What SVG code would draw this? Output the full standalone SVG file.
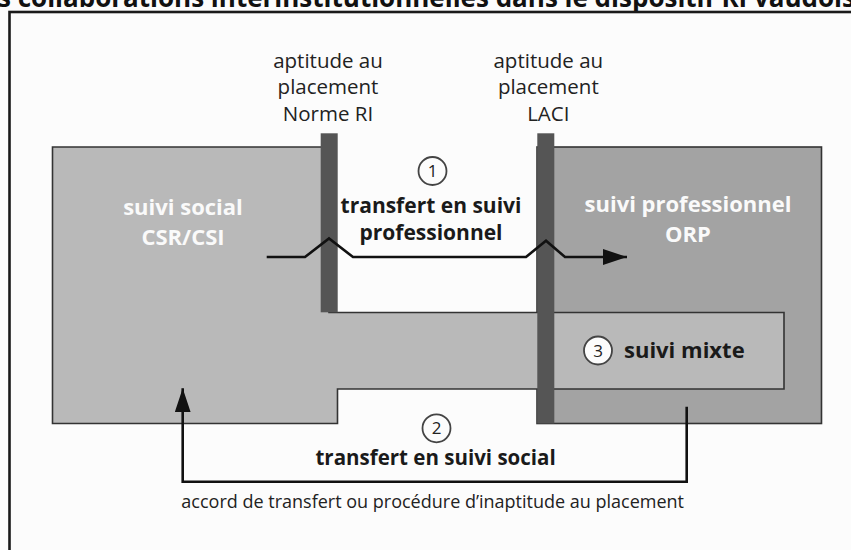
<svg xmlns="http://www.w3.org/2000/svg" width="851" height="550" viewBox="0 0 851 550">
<defs>
<style>
.lbl{font-family:"Open Sans","Liberation Sans",sans-serif;font-size:20.5px;fill:#222;text-anchor:middle}
.b{font-family:"Open Sans","Liberation Sans",sans-serif;font-weight:bold;font-size:22px;text-anchor:middle}
.w{fill:#fafafa}
.k{fill:#1a1a1a}
.num{font-family:"Open Sans","Liberation Sans",sans-serif;font-size:17px;fill:#222;text-anchor:middle}
.circ{fill:#fcfcfc;stroke:#444;stroke-width:1.8}
.bar{fill:#555}
.conn{fill:none;stroke:#111;stroke-width:2.6;stroke-linejoin:miter}
</style>
<marker id="ah" markerUnits="userSpaceOnUse" markerWidth="26" markerHeight="18" refX="24" refY="8" orient="auto">
<path d="M0,0 L24,8 L0,16 Z" fill="#111"/>
</marker>
</defs>
<rect width="851" height="550" fill="#fcfcfc"/>
<text x="-2" y="7" font-family="'Open Sans','Liberation Sans',sans-serif" font-weight="bold" font-size="26" fill="#111">s collaborations interinstitutionnelles dans le dispositif RI vaudois</text>
<rect x="9.5" y="12" width="860" height="560" fill="none" stroke="#1a1a1a" stroke-width="2.6"/>

<g id="orp">
<rect x="537" y="147" width="284.5" height="276.5" fill="#a3a3a3" stroke="#333" stroke-width="1.6"/>
<text class="b w" x="688" y="212">suivi professionnel</text>
<text class="b w" x="688" y="242">ORP</text>
</g>

<g id="social">
<polygon points="52.5,147 329,147 329,312.5 784,312.5 784,389 337.5,389 337.5,423.5 52.5,423.5" fill="#b9b9b9" stroke="#333" stroke-width="1.6"/>
<text class="b w" x="183" y="215">suivi social</text>
<text class="b w" x="183" y="245">CSR/CSI</text>
</g>

<g id="seuil-ri">
<rect class="bar" x="320.7" y="133.3" width="17" height="179"/>
<text class="lbl" x="328" y="68">aptitude au</text>
<text class="lbl" x="328" y="94">placement</text>
<text class="lbl" x="328" y="121">Norme RI</text>
</g>

<g id="seuil-laci">
<rect class="bar" x="537.3" y="133.3" width="17" height="290.2"/>
<text class="lbl" x="548.3" y="68">aptitude au</text>
<text class="lbl" x="548.3" y="94">placement</text>
<text class="lbl" x="548.3" y="121">LACI</text>
</g>

<g id="mixte">
<circle class="circ" cx="598" cy="350.5" r="14"/>
<text class="num" x="598" y="356.5">3</text>
<text class="b k" x="624" y="358" style="text-anchor:start">suivi mixte</text>
</g>

<g id="connectors">
<path class="conn" d="M266.7,257 H305 L329,238.5 L353,257 H526 L546,240.7 L565,257 H627" marker-end="url(#ah)"/>
<path class="conn" d="M686.7,406.7 V481.7 H182.7 V388.3" marker-end="url(#ah)"/>
</g>

<g id="label-1">
<circle class="circ" cx="432.5" cy="171" r="14"/>
<text class="num" x="432.5" y="177">1</text>
<text class="b k" x="431" y="213" style="font-size:21px">transfert en suivi</text>
<text class="b k" x="431" y="240" style="font-size:21px">professionnel</text>
</g>

<g id="label-2">
<circle class="circ" cx="436.5" cy="428.3" r="14"/>
<text class="num" x="436.5" y="434.3">2</text>
<text class="b k" x="435.6" y="465" style="font-size:20.5px">transfert en suivi social</text>
<text class="lbl" x="432.7" y="508" style="font-size:18px">accord de transfert ou procédure d’inaptitude au placement</text>
</g>
</svg>
